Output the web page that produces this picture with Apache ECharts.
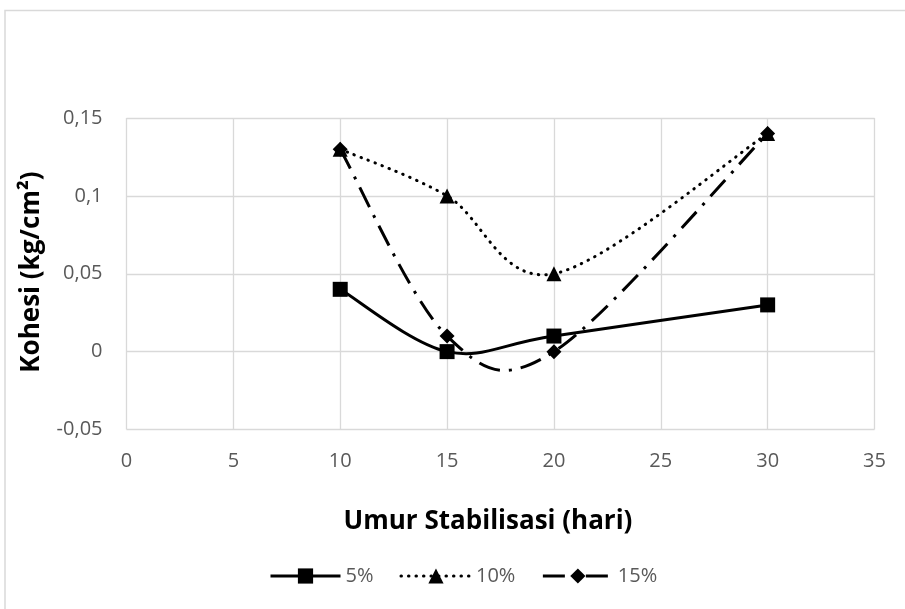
<!DOCTYPE html>
<html>
<head>
<meta charset="utf-8">
<script src="https://cdn.jsdelivr.net/npm/echarts@6/dist/echarts.min.js"></script>
<style>
  html, body { margin: 0; padding: 0; background: #fff; }
  #chart { width: 905px; height: 609px; }
</style>
</head>
<body>
<div id="chart"></div>
<script>
// Curing age (days) on the x axis, cohesion (kg/cm²) on the y axis
const ages = [10, 15, 20, 30];
const kohesi5 = [0.04, 0.00, 0.01, 0.03];
const kohesi10 = [0.13, 0.10, 0.05, 0.14];
const kohesi15 = [0.13, 0.01, 0.00, 0.14];
const seriesNames = ['5%', '10%', '15%'];

const xTitle = 'Umur Stabilisasi (hari)';
const yTitle = 'Kohesi (kg/cm²)';

const FONT = '"Open Sans", sans-serif';
const GRID_COLOR = '#d9d9d9';
const LABEL_COLOR = '#595959';

// Line looks per series: solid, round dots, long dash + dot
const lineLooks = [
  { type: 'solid', cap: 'butt', dash: null },
  { type: [0.5, 7], cap: 'round', dash: [0.5, 7] },
  { type: [22, 9, 3, 9], cap: 'butt', dash: [22, 9, 3, 9] }
];
const symbols = ['rect', 'triangle', 'diamond'];
const valueSets = [kohesi5, kohesi10, kohesi15];

function pairs(values) {
  return ages.map((a, i) => [a, values[i]]);
}

function fmtComma(v) {
  return String(+v.toFixed(2)).replace('.', ',');
}

// Cardinal (Catmull-Rom style) bezier through pixel points
function smoothPathData(pts) {
  let d = 'M' + pts[0][0] + ',' + pts[0][1];
  for (let i = 0; i < pts.length - 1; i++) {
    const p0 = pts[i - 1] || pts[i];
    const p1 = pts[i];
    const p2 = pts[i + 1];
    const p3 = pts[i + 2] || pts[i + 1];
    const c1x = p1[0] + (p2[0] - p0[0]) / 6;
    const c1y = p1[1] + (p2[1] - p0[1]) / 6;
    const c2x = p2[0] - (p3[0] - p1[0]) / 6;
    const c2y = p2[1] - (p3[1] - p1[1]) / 6;
    d += ' C' + c1x + ',' + c1y + ' ' + c2x + ',' + c2y + ' ' + p2[0] + ',' + p2[1];
  }
  return d;
}

function curveSeries(values, look) {
  return {
    type: 'custom',
    coordinateSystem: 'cartesian2d',
    data: [[ages[0], values[0]]],
    encode: { x: 0, y: 1 },
    silent: true,
    z: 1,
    renderItem: function (params, api) {
      if (params.dataIndex !== 0) return null;
      const pts = ages.map((a, i) => api.coord([a, values[i]]));
      return {
        type: 'path',
        shape: { pathData: smoothPathData(pts) },
        style: {
          fill: 'none',
          stroke: '#000',
          lineWidth: 3,
          lineDash: look.dash,
          lineCap: look.cap,
          lineJoin: 'round'
        }
      };
    }
  };
}

const markerSeries = valueSets.map((vals, k) => ({
  name: seriesNames[k],
  type: 'line',
  data: pairs(vals),
  symbol: symbols[k],
  symbolSize: 15,
  itemStyle: { color: '#000' },
  lineStyle: { color: '#000', width: 3, opacity: 0 },
  z: 3
}));

const curves = valueSets.map((vals, k) => curveSeries(vals, lineLooks[k]));

const chart = echarts.init(document.getElementById('chart'), null, { renderer: 'canvas' });

chart.setOption({
  backgroundColor: '#ffffff',
  animation: false,
  grid: { left: 126.5, right: 30.5, top: 118, bottom: 179.5, containLabel: false },
  xAxis: {
    type: 'value',
    min: 0, max: 35, interval: 5,
    axisLine: { show: false },
    axisTick: { show: false },
    splitLine: { show: true, lineStyle: { color: GRID_COLOR, width: 1.3 } },
    axisLabel: { color: LABEL_COLOR, fontFamily: FONT, fontSize: 20, margin: 22 }
  },
  yAxis: {
    type: 'value',
    min: -0.05, max: 0.15, interval: 0.05,
    axisLine: { show: false },
    axisTick: { show: false },
    splitLine: { show: true, lineStyle: { color: GRID_COLOR, width: 1.3 } },
    axisLabel: { color: LABEL_COLOR, fontFamily: FONT, fontSize: 20, margin: 24, formatter: fmtComma }
  },
  legend: {
    left: 269,
    top: 566,
    padding: 0,
    itemWidth: 70,
    itemHeight: 19,
    itemGap: 26,
    textStyle: { color: LABEL_COLOR, fontFamily: FONT, fontSize: 20 },
    data: seriesNames.map((n, k) => ({
      name: n,
      lineStyle: {
        color: '#000', width: 3, opacity: 1,
        type: lineLooks[k].type, cap: lineLooks[k].cap
      }
    }))
  },
  graphic: [
    {
      type: 'rect',
      shape: { x: 5, y: 10.5, width: 1000, height: 1000 },
      style: { fill: 'none', stroke: GRID_COLOR, lineWidth: 1.5 },
      silent: true, z: -10
    },
    {
      type: 'text',
      x: 488, y: 522,
      style: {
        text: xTitle, fill: '#000', fontFamily: FONT, fontWeight: 'bold', fontSize: 26,
        align: 'center', verticalAlign: 'middle'
      }
    },
    {
      type: 'text',
      x: 32, y: 272,
      rotation: Math.PI / 2,
      style: {
        text: yTitle, fill: '#000', fontFamily: FONT, fontWeight: 'bold', fontSize: 26,
        align: 'center', verticalAlign: 'middle'
      }
    }
  ],
  series: curves.concat(markerSeries)
});
</script>
</body>
</html>
